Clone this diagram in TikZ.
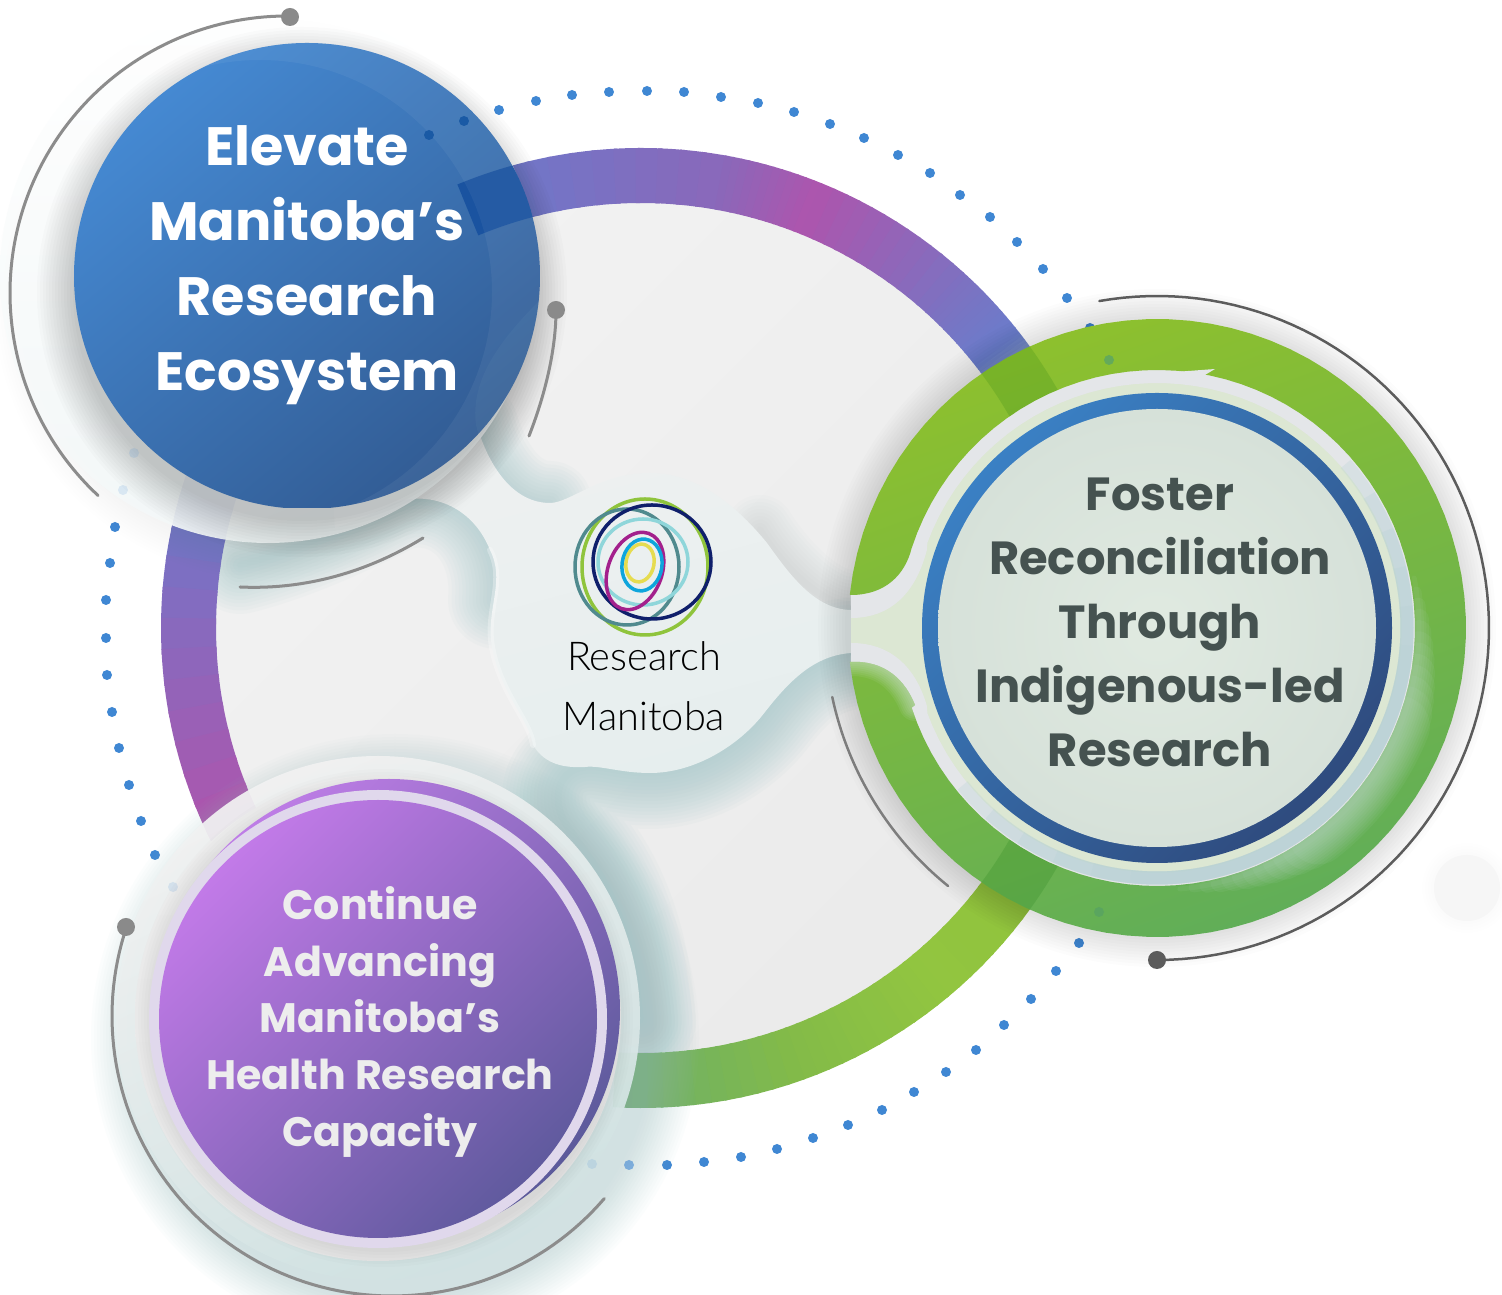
\documentclass[tikz,border=0pt]{standalone}
\usepackage{fontspec}
\setmainfont{Poppins}
\newfontfamily\popb[UprightFont=* Bold]{Poppins}
\newfontfamily\latol{Lato Light}
\usetikzlibrary{calc}
\definecolor{dotblue}{HTML}{3F87D3}
\definecolor{ballgray}{HTML}{8A8A8A}
\definecolor{teal}{HTML}{9CC4C6}
\definecolor{blobc}{HTML}{E6EEEE}
\definecolor{blobt}{HTML}{EFF1F1}
\definecolor{rA}{HTML}{6A7ACB}\definecolor{rB}{HTML}{8A68BA}\definecolor{rC}{HTML}{AD55AD}
\definecolor{rD}{HTML}{7F70C0}\definecolor{rE}{HTML}{6A7DCB}\definecolor{rF}{HTML}{A8BDD6}
\definecolor{gA}{HTML}{8FC23A}\definecolor{gB}{HTML}{92C540}\definecolor{gC}{HTML}{83BB48}\definecolor{gD}{HTML}{6CAE6C}
\definecolor{arcgray}{HTML}{8C8C8C}
\definecolor{arcdark}{HTML}{5C5C5C}
\definecolor{paleg}{HTML}{DCE7D3}
\definecolor{halog}{HTML}{E4E6E9}
\definecolor{bandt}{HTML}{B8D1D5}
\newcommand\arcp[5]{plot[domain=#4:#5,samples=90,variable=\aa] ({#1+#3*cos(\aa)},{#2-#3*sin(\aa)})}
\newcommand\arcl[5]{-- plot[domain=#4:#5,samples=90,variable=\aa] ({#1+#3*cos(\aa)},{#2-#3*sin(\aa)})}
\newcommand\ringseg[4]{\foreach \k in {0,...,11}{%
  \pgfmathsetmacro\aS{#1+(#2-#1)*\k/12}%
  \pgfmathsetmacro\aE{#1+(#2-#1)*(\k+1.2)/12}%
  \pgfmathsetmacro\mx{100-100*(\k+.5)/12}%
  \colorlet{segc}{#3!\mx!#4}%
  \draw[line width=.55cm,segc] plot[domain=\aS:\aE,samples=6,variable=\aa] ({641+452.5*cos(\aa)},{628-452.5*sin(\aa)});}}
\newcommand\glow[6]{\foreach \i in {1,...,#5}{\fill[#4,opacity=#6] (#1,#2) circle ({#3+\i*3});}}
\newcommand\softline[4]{\foreach \w in {1,...,#2}{\draw[#1,opacity=#3,line width=\w*#4*.01cm,line cap=round,line join=round] \softpath;}}
\tikzset{
 grayarc/.style={arcgray,line width=.03cm,line cap=round},
 darkarc/.style={arcdark,line width=.025cm,line cap=round},
 dotb/.style={fill=dotblue},
 lmark/.style={line width=.035cm},
 ctitle/.style={align=center,inner sep=0pt}
}
\begin{document}
\begin{tikzpicture}[x=.01cm,y=-.01cm]
\useasboundingbox (0,0) rectangle (1502,1295);
\fill[white] (0,0) rectangle (1502,1295);
% dots
\foreach \x/\y in {499/110,536/101,572/95,609/92,647/91,684/92,721/97,758/103,794/112,830/124,864/138,898/155,930/173,960/195,990/217,1017/242,1043/269,1067/298,1090/328,
 1079/943,1056/971,1031/999,1004/1025,976/1050,946/1072,914/1092,882/1110,848/1125,813/1138,777/1149,741/1157,704/1162,667/1165,
 115/527,110/563,106/600,106/638,107/675,112/712,119/748,129/785,141/821,155/855}
 {\fill[dotb] (\x,\y) circle (5);}
% pale decorative disc
\glow{1467}{888}{30}{black}{5}{.004}
\fill[gray!7] (1467,888) circle (33);
% inner disc
\shade[top color=white!95!black,bottom color=white!92!black,shading angle=45] (641,628) circle (427);
% big ring
\ringseg{112}{80}{rA}{rB}
\ringseg{80}{68}{rB}{rC}
\ringseg{68}{48}{rC}{rD}
\ringseg{48}{38}{rD}{rE}
\ringseg{38}{32}{rE}{rF}
\ringseg{160}{205}{rA}{rC}
\ringseg{205}{222}{rC}{rC}
\ringseg{-28}{-50}{gA}{gB}
\ringseg{-50}{-70}{gB}{gC}
\ringseg{-70}{-93}{gC}{gD}
% teal shadows in the disc
\begin{scope}
\clip (641,628) circle (425);
\def\softpath{(476,425) .. controls (490,470) and (515,503) .. (550,503)}
\softline{teal}{12}{.055}{7}
\def\softpath{(760,530) .. controls (775,555) and (815,603) .. (850,605)}
\softline{gray!40!teal}{10}{.025}{7}
\def\softpath{(860,653) .. controls (815,655) and (790,680) .. (765,712) .. controls (740,745) and (695,773) .. (650,773) .. controls (620,773) and (600,765) .. (585,767) .. controls (555,770) and (550,805) .. (570,830) .. controls (590,860) and (630,900) .. (640,1020)}
\softline{teal}{16}{.055}{7}
\def\softpath{(240,565) .. controls (300,550) and (360,520) .. (390,505) .. controls (420,490) and (470,500) .. (490,550) .. controls (498,570) and (498,590) .. (497,600)}
\softline{teal}{14}{.05}{7}
\end{scope}
% central blob
\shade[top color=blobt,bottom color=blobc,shading angle=15]
 (330,450) -- (470,400) .. controls (485,470) and (515,503) .. (550,503)
 .. controls (570,503) and (600,473) .. (650,473)
 .. controls (700,473) and (740,510) .. (767,543)
 .. controls (790,575) and (815,610) .. (852,610) -- (852,653)
 .. controls (815,655) and (790,680) .. (765,712)
 .. controls (740,745) and (695,773) .. (650,773)
 .. controls (620,773) and (600,765) .. (585,767)
 .. controls (565,768) and (545,765) .. (533,745)
 .. controls (530,720) and (497,690) .. (491,640)
 .. controls (488,605) and (505,580) .. (490,550)
 .. controls (470,500) and (420,490) .. (390,505)
 .. controls (372,514) and (352,522) .. (335,528) -- cycle;
\draw[white,opacity=.3,line width=.06cm,line cap=round] (533,745) .. controls (530,720) and (497,690) .. (491,640) .. controls (488,605) and (505,580) .. (490,550);
% logo
\draw[lmark,color={rgb,255:red,143;green,196;blue,60}] (645,567) ellipse (63 and 68);
\draw[lmark,color={rgb,255:red,80;green,138;blue,142}] (627,567) ellipse (52 and 58);
\draw[lmark,color={rgb,255:red,143;green,214;blue,218}] (643,562) ellipse (45 and 43);
\draw[lmark,color={rgb,255:red,15;green,31;blue,107}] (652,562) ellipse (59 and 57);
\draw[lmark,color={rgb,255:red,163;green,32;blue,140},rotate around={-20:(635,571)}] (635,571) ellipse (27 and 40);
\draw[lmark,color={rgb,255:red,230;green,220;blue,80},rotate around={-10:(640,563)}] (640,563) ellipse (14 and 19);
\draw[lmark,color={rgb,255:red,14;green,165;blue,220},rotate around={-8:(642,565)}] (642,565) ellipse (20 and 26);
\node[font=\latol\fontsize{11.3}{17}\selectfont,ctitle,text=black] (brand) at (644,686) {Research\\[-.05pt]Manitoba};
% green circle shadow
\glow{1157}{628}{309}{black}{10}{.012}
% green interior
\def\gin{(851,606) .. controls (885,606) and (905,585) .. (915,548) \arcl{1157}{628}{257}{160}{-160} -- (915,708) .. controls (905,675) and (885,655) .. (851,655)}
\fill[paleg] \gin -- cycle;
\draw[halog,line width=.24cm] \gin;
% green ring
\def\gpath{\arcp{1157}{628}{309}{173.8}{-173.7} .. controls (885,660) and (905,680) .. (915,705) \arcl{1157}{628}{258}{-162}{162} .. controls (905,575) and (885,595) .. (851,595) -- cycle}
\shade[left color={rgb,255:red,141;green,192;blue,46},right color={rgb,255:red,97;green,174;blue,88},shading angle=20] \gpath;
\begin{scope}
\clip \gpath;
\draw[black!60!green,opacity=.14,line width=.55cm] \arcp{641}{628}{452.5}{-50}{55};
\foreach \w in {1,...,12}{%
  \pgfmathsetmacro\aS{14-\w*3}\pgfmathsetmacro\aE{-88+\w*3}%
  \draw[white!55!teal,opacity=.06,line width=\w*.05cm,line cap=round] \arcp{1157}{628}{262}{\aS}{\aE};}
\def\softpath{(851,660) .. controls (885,660) and (905,680) .. (915,705)}
\softline{white!70!teal}{8}{.08}{4}
\end{scope}
\fill[halog] (1095,378) -- (1215,369) -- (1200,378) -- cycle;
% inner bands
\foreach \i in {1,...,6}{%
  \pgfmathsetmacro\aS{50-\i*9}\pgfmathsetmacro\aE{-150+\i*9}%
  \draw[bandt,line width=.13cm,opacity=.28] \arcp{1157}{628}{250}{\aS}{\aE};}
\fill[paleg] (1157,628) circle (240);
\shade[top color={rgb,255:red,58;green,128;blue,196},bottom color={rgb,255:red,47;green,75;blue,126},shading angle=45] (1157,628) circle (235);
\shade[inner color={rgb,255:red,224;green,234;blue,225},outer color={rgb,255:red,214;green,225;blue,217}] (1157,628) circle (219);
\node[font=\popb\fontsize{13.2}{18.2}\selectfont,ctitle,text={rgb,255:red,69;green,82;blue,80}] (foster) at (1160,622) {Foster\\Reconciliation\\Through\\Indigenous-led\\Research};
% overlay dots
\fill[fill={rgb,255:red,100;green,170;blue,90}] (1109,360) circle (5);
\fill[fill={rgb,255:red,90;green,165;blue,95}] (1099,912) circle (5);
% blue halo
\glow{275}{300}{245}{teal!60!black}{12}{.005}
\shade[top color=white,bottom color=white!88!teal,opacity=.93] (268,275) circle (268);
\glow{302}{292}{226}{black}{13}{.014}
% blue circle
\begin{scope}
\clip (0,0) rectangle (540,508);
\shade[top color={rgb,255:red,69;green,137;blue,210},middle color={rgb,255:red,54;green,106;blue,172},bottom color={rgb,255:red,50;green,92;blue,148},shading angle=40] (307,276) circle (233);
\clip (307,276) circle (233);
\draw[color={rgb,255:red,26;green,83;blue,160},line width=.55cm] \arcp{641}{628}{452.5}{112.5}{92};
\fill[white,opacity=.05,even odd rule] (307,276) circle (233) (260,292) circle (232);
\fill[teal,opacity=.06] (540,300) .. controls (500,340) and (470,380) .. (476,425) .. controls (482,450) and (490,470) .. (520,480) -- (560,400) -- cycle;
\fill[fill={rgb,255:red,26;green,90;blue,165}] (464,121) circle (5);
\fill[fill={rgb,255:red,26;green,90;blue,165}] (429,135) circle (5);
\end{scope}
\node[font=\popb\fontsize{15.35}{21.35}\selectfont,ctitle,text=white] (elevate) at (307,265) {Elevate\\Manitoba’s\\Research\\Ecosystem};
% purple
\glow{395}{1038}{256}{teal}{16}{.03}
\shade[top color=white!95!black,bottom color={rgb,255:red,208;green,226;blue,226},shading angle=25,opacity=.93] (378,1018) circle (262);
\shade[top color=white!94!black,bottom color=white!91!black] (378,1018) circle (243);
\glow{384}{1018}{231}{black}{6}{.012}
\shade[top color={rgb,255:red,190;green,125;blue,230},bottom color={rgb,255:red,92;green,90;blue,155},shading angle=45] (389,1010) circle (231);
\fill[color={rgb,255:red,224;green,216;blue,236}] (378,1019) circle (229);
\shade[top color={rgb,255:red,194;green,122;blue,232},middle color={rgb,255:red,143;green,104;blue,190},bottom color={rgb,255:red,96;green,90;blue,158},shading angle=45] (378,1019) circle (219);
\node[font=\popb\fontsize{11.7}{16.2}\selectfont,ctitle,text=white!93!black] (cont) at (380,1022) {Continue\\Advancing\\Manitoba’s\\Health Research\\Capacity};
% arcs and end balls
\draw[grayarc] \arcp{287}{293}{277}{90}{227};
\fill[ballgray] (290,17) circle (9);
\draw[grayarc] (556,310) .. controls (556,350) and (545,395) .. (529,436);
\fill[ballgray] (556,310) circle (9);
\draw[grayarc] (423,538) .. controls (368,572) and (305,590) .. (240,587);
\draw[darkarc] \arcp{1157}{628}{332}{100}{-90};
\fill[arcdark] (1157,960) circle (9);
\draw[darkarc,arcdark!80] \arcp{1157}{628}{332}{192}{231};
\draw[grayarc] \arcp{392}{1016}{280}{161.5}{319.3};
\fill[ballgray] (126,927) circle (9);
% faint dots
\foreach \x/\y in {134/453,123/490,173/887,592/1164}{\fill[dotblue,opacity=.15] (\x,\y) circle (5);}
\fill[dotblue,opacity=.6] (629,1165) circle (5);
\end{tikzpicture}
\end{document}
